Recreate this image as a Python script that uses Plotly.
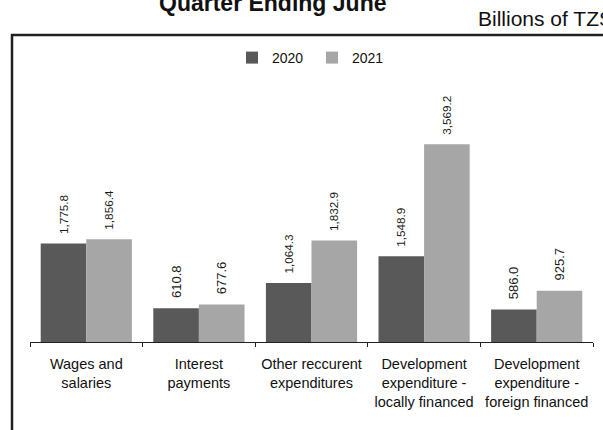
import plotly.graph_objects as go

categories = [
    "Wages and<br>salaries",
    "Interest<br>payments",
    "Other reccurent<br>expenditures",
    "Development<br>expenditure -<br>locally financed",
    "Development<br>expenditure -<br>foreign financed",
]
series_names = ["2020", "2021"]
values_2020 = [1775.8, 610.8, 1064.3, 1548.9, 586.0]
values_2021 = [1856.4, 677.6, 1832.9, 3569.2, 925.7]
title_text = "Quarter Ending June"
unit_text = "Billions of TZS"

FONT = "Liberation Sans, Arial, sans-serif"
colors = ["#595959", "#a6a6a6"]

W, H = 603, 430
L, R, T, B = 30, 10, 65, 88
plot_w = W - L - R
plot_h = H - T - B


def px_x(px):
    return (px - L) / plot_w


def px_y(py):
    return (H - B - py) / plot_h


fig = go.Figure()
for name, vals, col in zip(series_names, [values_2020, values_2021], colors):
    fig.add_trace(go.Bar(
        name=name,
        x=categories,
        y=vals,
        marker=dict(color=col, line=dict(width=0)),
        text=vals,
        texttemplate="\u00a0\u00a0%{y:,.1f}",
        textposition="outside",
        textangle=-90,
        textfont=dict(family=FONT, size=13, color="#1a1a1a"),
        cliponaxis=False,
        hoverinfo="skip",
    ))

fig.update_layout(
    width=W, height=H,
    margin=dict(l=L, r=R, t=T, b=B),
    paper_bgcolor="white",
    plot_bgcolor="white",
    barmode="group",
    bargap=0.19,
    bargroupgap=0,
    font=dict(family=FONT, color="#111111"),
    showlegend=True,
    legend=dict(
        orientation="h",
        x=px_x(232), xanchor="left",
        y=px_y(58), yanchor="middle",
        font=dict(family=FONT, size=14, color="#111111"),
        entrywidth=35, entrywidthmode="pixels",
        bgcolor="rgba(0,0,0,0)",
    ),
    xaxis=dict(
        showline=True, linecolor="#222222", linewidth=1,
        ticks="outside", ticklen=4, tickcolor="#222222",
        tickson="boundaries", tickangle=0,
        ticklabelstandoff=9,
        tickfont=dict(family=FONT, size=14.5, color="#111111"),
        showgrid=False,
    ),
    yaxis=dict(
        range=[0, 5000], visible=False, showgrid=False, zeroline=False,
    ),
    annotations=[
        dict(text="<b>" + title_text + "</b>", xref="paper", yref="paper",
             x=px_x(272), y=px_y(18), xanchor="center", yanchor="bottom",
             showarrow=False, font=dict(family=FONT, size=23, color="#111111")),
        dict(text=unit_text, xref="paper", yref="paper",
             x=px_x(476), y=px_y(32), xanchor="left", yanchor="bottom",
             showarrow=False, font=dict(family=FONT, size=21, color="#111111")),
    ],
    shapes=[
        dict(type="rect", xref="paper", yref="paper",
             x0=px_x(12), x1=px_x(700), y0=px_y(600), y1=px_y(35),
             line=dict(color="#231f20", width=2.5), fillcolor="rgba(0,0,0,0)",
             layer="below"),
    ],
)

fig.write_html(
    "out.html",
    config={"displayModeBar": False},
    post_script="document.body.style.margin='0px';document.body.style.overflow='hidden';",
)
